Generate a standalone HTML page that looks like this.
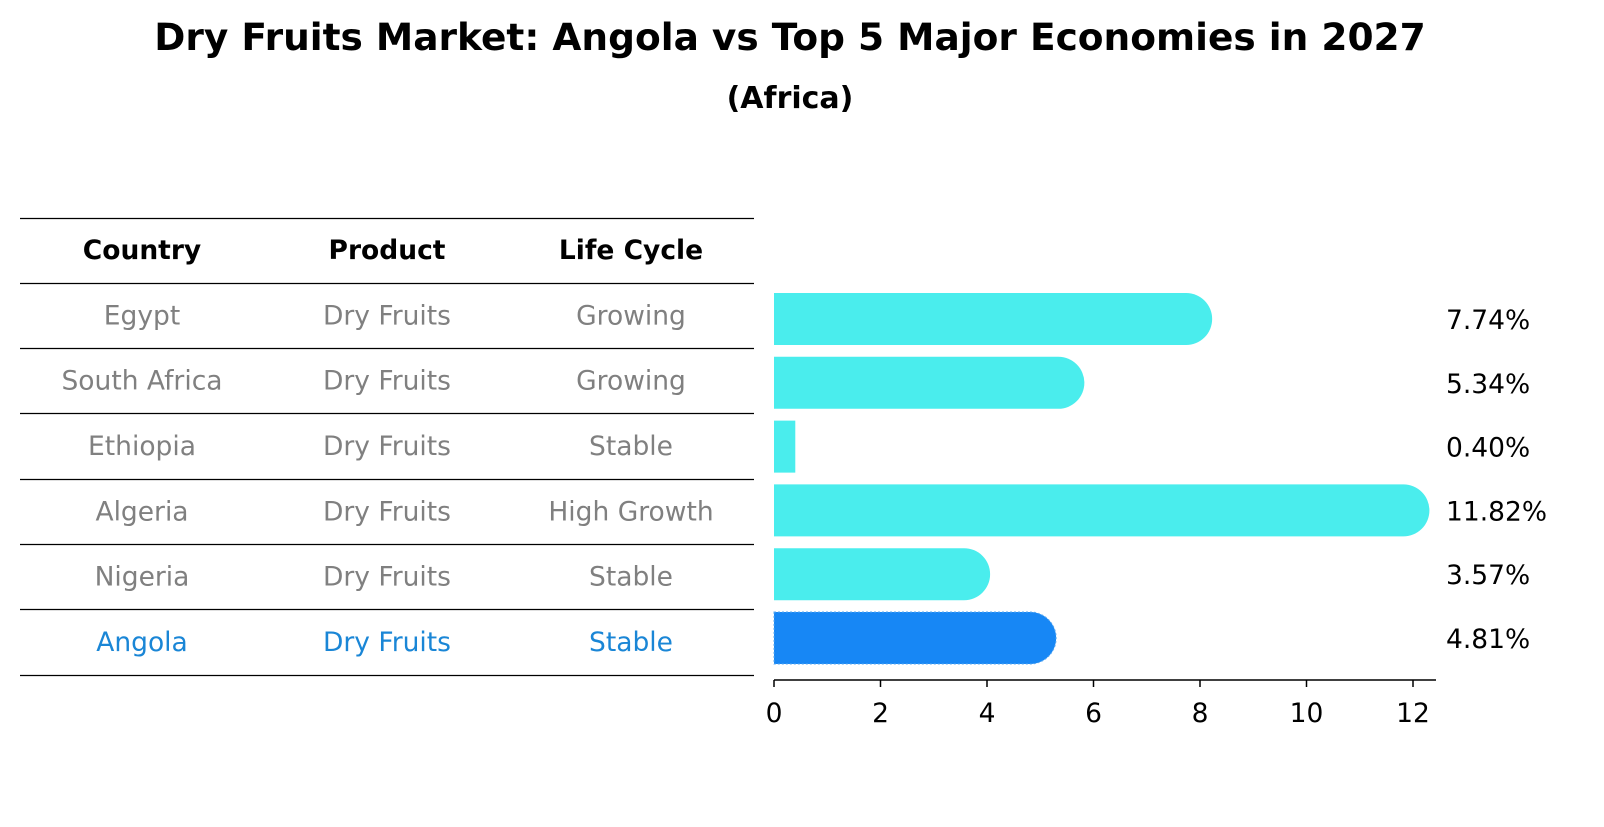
<!DOCTYPE html>
<html><head><meta charset="utf-8"><style>
body{margin:0;background:#fff;width:1604px;height:823px;overflow:hidden;font-family:"DejaVu Sans","Liberation Sans",sans-serif}
</style></head><body>
<svg width="1604" height="823" xmlns="http://www.w3.org/2000/svg" font-family="DejaVu Sans, Liberation Sans, sans-serif">
<text x="790" y="50" text-anchor="middle" font-size="37.5" font-weight="bold">Dry Fruits Market: Angola vs Top 5 Major Economies in 2027</text>
<text x="790" y="108" text-anchor="middle" font-size="30" font-weight="bold">(Africa)</text>
<g id="table"></g>
<g id="bars"></g>
</svg>
<script>
const countries=["Egypt","South Africa","Ethiopia","Algeria","Nigeria","Angola"];
const products=["Dry Fruits","Dry Fruits","Dry Fruits","Dry Fruits","Dry Fruits","Dry Fruits"];
const lifeCycles=["Growing","Growing","Stable","High Growth","Stable","Stable"];
const values=[7.74,5.34,0.40,11.82,3.57,4.81];
const xTicks=[0,2,4,6,8,10,12];
const NS="http://www.w3.org/2000/svg";
function mk(t,a,p){const e=document.createElementNS(NS,t);for(const k in a)e.setAttribute(k,a[k]);p.appendChild(e);return e;}
const tbl=document.getElementById('table');
const lineYs=[218,283,348,413,479,544,609,675];
lineYs.forEach((y,i)=>{const l=mk('line',{x1:20,x2:754,y1:y+0.5,y2:y+0.5,stroke:'#000','stroke-width':1.2},tbl);

});
const colX=[142,387,631];
const FS=26.5;
["Country","Product","Life Cycle"].forEach((h,i)=>{const t=mk('text',{x:colX[i],y:259,'text-anchor':'middle','font-size':FS,'font-weight':'bold'},tbl);t.textContent=h;

});
const rowY=i=>(lineYs[i+1]+lineYs[i+2])/2+9;
countries.forEach((c,i)=>{const col=i===countries.length-1?'#1a86d6':'#808080';
[c,products[i],lifeCycles[i]].forEach((v,j)=>{const t=mk('text',{x:colX[j],y:rowY(i),'text-anchor':'middle','font-size':FS,fill:col},tbl);t.textContent=v;

});});
const g=document.getElementById('bars');
const x0=774,pxPer=53.25,xs=v=>x0+v*pxPer;
const yc=i=>319+i*63.8;const h=52,r=26;
values.forEach((v,i)=>{const last=i===values.length-1;const col=last?'#1787f5':'#4aeded';
const xe=xs(v),yt=yc(i)-h/2;let d;
if(v>1){d=`M${x0},${yt} H${xe} A${r},${r} 0 0 1 ${xe},${yt+h} H${x0} Z`;}else{d=`M${x0},${yt} H${xe} V${yt+h} H${x0} Z`;}
const p=mk('path',{d:d,fill:col},g);
if(last){p.setAttribute('stroke','#5aa8f0');p.setAttribute('stroke-dasharray','2 2');}


const t=mk('text',{x:1446,y:yc(i)+10,'font-size':FS},g);t.textContent=v.toFixed(2)+'%';

});
const ax=mk('line',{x1:774,x2:1436,y1:680,y2:680,stroke:'#000','stroke-width':1.5},g);


xTicks.forEach(v=>{const l=mk('line',{x1:xs(v),x2:xs(v),y1:680,y2:687,stroke:'#000','stroke-width':1.5},g);


const t=mk('text',{x:xs(v),y:722,'text-anchor':'middle','font-size':FS},g);t.textContent=v;

});
</script>
</body></html>
